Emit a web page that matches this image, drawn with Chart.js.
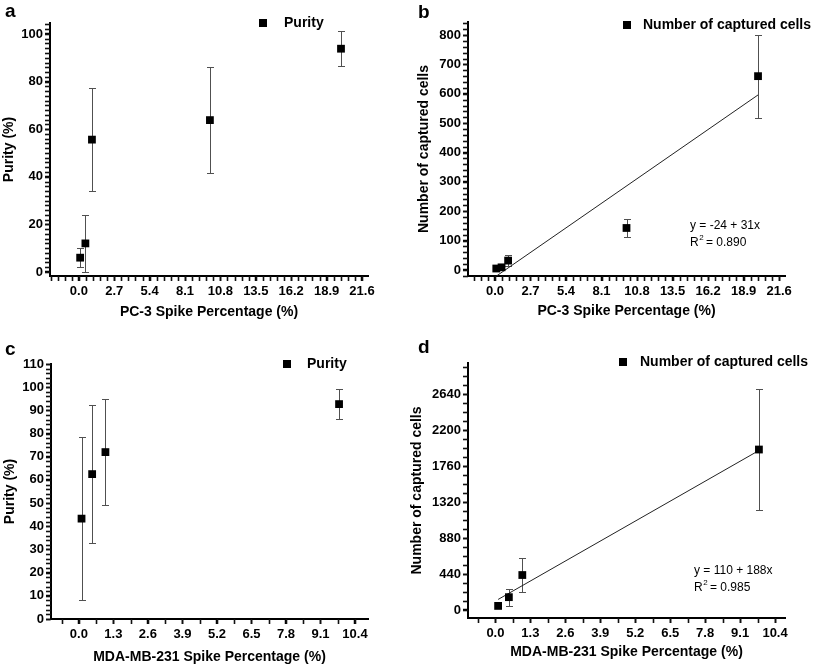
<!DOCTYPE html>
<html>
<head>
<meta charset="utf-8">
<script src="https://cdn.jsdelivr.net/npm/chart.js@4.4.1/dist/chart.umd.min.js"></script>
<style>
body { margin: 0; background: #fff; width: 813px; height: 667px; position: relative; overflow: hidden; }
canvas { position: absolute; }
</style>
</head>
<body>
<canvas id="pa" width="405" height="330" style="left:0;top:0"></canvas>
<canvas id="pb" width="408" height="330" style="left:405px;top:0"></canvas>
<canvas id="pc" width="405" height="337" style="left:0;top:330px"></canvas>
<canvas id="pd" width="408" height="337" style="left:405px;top:330px"></canvas>
<script>
// PC-3 spike series (panels a, b)
var pc3Spike = [0.1, 0.5, 1, 10, 20];
var pc3Purity = [6, 12, 55.6, 63.8, 93.8];
var pc3PurityErr = [4, 12, 21.6, 22.3, 7.3];
var pc3Cells = [5, 9, 32, 143, 660];
var pc3CellsErr = [3, 4, 20, 30, 141];
var pc3FitX = [0.1, 20];
var pc3FitY = [-21, 596];

// MDA-MB-231 spike series (panels c, d)
var mdaSpike = [0.1, 0.5, 1, 9.8];
var mdaPurity = [43.3, 62.5, 72, 92.7];
var mdaPurityErr = [35.2, 29.8, 22.8, 6.3];
var mdaCells = [50, 157, 428, 1964];
var mdaCellsErr = [8, 105, 210, 744];
var mdaFitX = [0.1, 9.8];
var mdaFitY = [129, 1952];

// tick labels
var pc3XTicks = [0, 2.7, 5.4, 8.1, 10.8, 13.5, 16.2, 18.9, 21.6];
var mdaXTicks = [0, 1.3, 2.6, 3.9, 5.2, 6.5, 7.8, 9.1, 10.4];
var purityTicksA = [0, 20, 40, 60, 80, 100];
var cellTicksB = [0, 100, 200, 300, 400, 500, 600, 700, 800];
var purityTicksC = [0, 10, 20, 30, 40, 50, 60, 70, 80, 90, 100, 110];
var cellTicksD = [0, 440, 880, 1320, 1760, 2200, 2640];

var FONT = "'Liberation Sans', Arial, sans-serif";
Chart.defaults.font.family = FONT;
Chart.defaults.color = "#000";

function pts(xs, ys) {
  return xs.map(function (x, i) { return { x: x, y: ys[i] }; });
}

// error bars drawn under the squares
var errorBars = {
  id: "errorBars",
  beforeDatasetsDraw: function (chart) {
    var ctx = chart.ctx, x = chart.scales.x, y = chart.scales.y;
    var ds = chart.data.datasets[0];
    ctx.save();
    ctx.strokeStyle = "#505050";
    ctx.lineWidth = 1;
    ds.data.forEach(function (p, i) {
      var e = ds.err[i];
      var px = Math.round(x.getPixelForValue(p.x)) + 0.5;
      var t = Math.round(y.getPixelForValue(p.y + e)) + 0.5;
      var b = Math.round(y.getPixelForValue(p.y - e)) + 0.5;
      ctx.beginPath();
      ctx.moveTo(px, t); ctx.lineTo(px, b);
      ctx.moveTo(px - 3.5, t); ctx.lineTo(px + 3.5, t);
      ctx.moveTo(px - 3.5, b); ctx.lineTo(px + 3.5, b);
      ctx.stroke();
    });
    ctx.restore();
  }
};

// minor ticks, panel letter, legend and fit annotation
function decor(d) {
  return {
    id: "decor",
    afterDraw: function (chart) {
      var ctx = chart.ctx, x = chart.scales.x, y = chart.scales.y, a = chart.chartArea;
      ctx.save();
      ctx.strokeStyle = "#111";
      ctx.lineWidth = 1.6;
      var v, p;
      for (v = Math.ceil(x.min / d.minorX) * d.minorX; v <= x.max; v += d.minorX) {
        p = Math.round(x.getPixelForValue(v)) + 0.5;
        ctx.beginPath();
        ctx.moveTo(p, a.bottom); ctx.lineTo(p, a.bottom + 5);
        ctx.stroke();
      }
      for (v = Math.ceil(y.min / d.minorY) * d.minorY; v <= y.max; v += d.minorY) {
        p = Math.round(y.getPixelForValue(v)) + 0.5;
        ctx.beginPath();
        ctx.moveTo(a.left, p); ctx.lineTo(a.left - 5, p);
        ctx.stroke();
      }

      ctx.fillStyle = "#000";
      ctx.textBaseline = "alphabetic";
      ctx.font = "bold 19px " + FONT;
      ctx.fillText(d.letter, d.letterPos[0], d.letterPos[1]);

      ctx.fillRect(d.legendPos[0] - 4, d.legendPos[1] - 4, 8, 8);
      ctx.font = "bold 14px " + FONT;
      ctx.textBaseline = "middle";
      ctx.fillText(d.legend, d.legendPos[2], d.legendPos[1]);

      if (d.fit) {
        var fx = d.fitPos[0], fy = d.fitPos[1];
        ctx.font = "12px " + FONT;
        ctx.fillText(d.fit[0], fx, fy);
        ctx.fillText("R", fx, fy + 17);
        var w = ctx.measureText("R").width;
        ctx.font = "8px " + FONT;
        ctx.fillText("2", fx + w + 0.5, fy + 12);
        ctx.font = "12px " + FONT;
        ctx.fillText(" = " + d.fit[1], fx + w + 4, fy + 17);
      }
      ctx.restore();
    }
  };
}

function makePanel(id, cfg) {
  var ctx = document.getElementById(id).getContext("2d");
  var datasets = [
    {
      label: cfg.legend,
      data: pts(cfg.xs, cfg.ys),
      err: cfg.err,
      showLine: false,
      pointStyle: "rect",
      pointRadius: 5.5,
      pointHoverRadius: 5.5,
      pointBorderWidth: 0,
      backgroundColor: "#000",
      borderColor: "#000"
    }
  ];
  if (cfg.fitX) {
    datasets.push({
      label: "fit",
      data: pts(cfg.fitX, cfg.fitY),
      showLine: true,
      pointRadius: 0,
      borderColor: "#222",
      borderWidth: 1,
      fill: false
    });
  }
  return new Chart(ctx, {
    type: "scatter",
    data: { datasets: datasets },
    plugins: [errorBars, decor(cfg.decor)],
    options: {
      responsive: false,
      animation: false,
      layout: { padding: { top: cfg.pad[0], right: cfg.pad[1], bottom: 0, left: 0 } },
      plugins: { legend: { display: false }, tooltip: { enabled: false } },
      scales: {
        x: {
          type: "linear",
          min: cfg.xRange[0],
          max: cfg.xRange[1],
          afterBuildTicks: function (s) { s.ticks = cfg.xTicks.map(function (v) { return { value: v }; }); },
          afterFit: function (s) { s.height = cfg.xh; },
          grid: { display: true, drawOnChartArea: false, drawTicks: true, tickLength: 5, tickColor: "#000", tickWidth: 1.5 },
          border: { display: true, color: "#000", width: 2 },
          ticks: {
            autoSkip: false, maxRotation: 0, padding: 3,
            font: { size: 13, weight: "bold" },
            callback: function (v) { return Number(v).toFixed(1); }
          },
          title: {
            display: true, text: cfg.xTitle,
            font: { size: 14, weight: "bold" },
            padding: { top: 0, bottom: cfg.xTitlePad }
          }
        },
        y: {
          type: "linear",
          min: cfg.yRange[0],
          max: cfg.yRange[1],
          afterBuildTicks: function (s) { s.ticks = cfg.yTicks.map(function (v) { return { value: v }; }); },
          afterFit: function (s) { s.width = cfg.yw; },
          grid: { display: true, drawOnChartArea: false, drawTicks: true, tickLength: 5, tickColor: "#000", tickWidth: 1.5 },
          border: { display: true, color: "#000", width: 2 },
          ticks: {
            autoSkip: false, padding: 2,
            font: { size: 13, weight: "bold" },
            callback: function (v) { return String(v); }
          },
          title: {
            display: true, text: cfg.yTitle,
            font: { size: 14, weight: "bold" },
            padding: { top: cfg.yTitlePad, bottom: 0 }
          }
        }
      }
    }
  });
}

makePanel("pa", {
  legend: "Purity",
  xs: pc3Spike, ys: pc3Purity, err: pc3PurityErr,
  xRange: [-2.2, 22.06], yRange: [-1.7, 104.6],
  xTicks: pc3XTicks, yTicks: purityTicksA,
  xTitle: "PC-3 Spike Percentage (%)", yTitle: "Purity (%)",
  pad: [23, 37], yw: 50, xh: 54, xTitlePad: 9, yTitlePad: 0.5,
  decor: { letter: "a", letterPos: [5, 17], legend: "Purity", legendPos: [263, 23, 284], minorX: 0.54, minorY: 2 }
});

makePanel("pb", {
  legend: "Number of captured cells",
  xs: pc3Spike, ys: pc3Cells, err: pc3CellsErr,
  fitX: pc3FitX, fitY: pc3FitY,
  xRange: [-2.05, 22.05], yRange: [-20.5, 844.4],
  xTicks: pc3XTicks, yTicks: cellTicksB,
  xTitle: "PC-3 Spike Percentage (%)", yTitle: "Number of captured cells",
  pad: [22, 28], yw: 63, xh: 54, xTitlePad: 10.5, yTitlePad: 10.5,
  decor: { letter: "b", letterPos: [13, 18], legend: "Number of captured cells", legendPos: [222, 25, 238], minorX: 0.54, minorY: 20,
    fit: ["y = -24 + 31x", "0.890"], fitPos: [285, 226] }
});

makePanel("pc", {
  legend: "Purity",
  xs: mdaSpike, ys: mdaPurity, err: mdaPurityErr,
  xRange: [-1.05, 10.89], yRange: [0, 110],
  xTicks: mdaXTicks, yTicks: purityTicksC,
  xTitle: "MDA-MB-231 Spike Percentage (%)", yTitle: "Purity (%)",
  pad: [34, 37], yw: 51, xh: 48, xTitlePad: 1, yTitlePad: 1.5,
  decor: { letter: "c", letterPos: [5, 25], legend: "Purity", legendPos: [287, 34, 307], minorX: 0.65, minorY: 2 }
});

makePanel("pd", {
  legend: "Number of captured cells",
  xs: mdaSpike, ys: mdaCells, err: mdaCellsErr,
  fitX: mdaFitX, fitY: mdaFitY,
  xRange: [-1.02, 10.77], yRange: [-98, 3023],
  xTicks: mdaXTicks, yTicks: cellTicksD,
  xTitle: "MDA-MB-231 Spike Percentage (%)", yTitle: "Number of captured cells",
  pad: [33, 28], yw: 63, xh: 49, xTitlePad: 6, yTitlePad: 4,
  decor: { letter: "d", letterPos: [13, 23], legend: "Number of captured cells", legendPos: [218, 32, 235], minorX: 0.65, minorY: 110,
    fit: ["y = 110 + 188x", "0.985"], fitPos: [289, 241] }
});
</script>
</body>
</html>
